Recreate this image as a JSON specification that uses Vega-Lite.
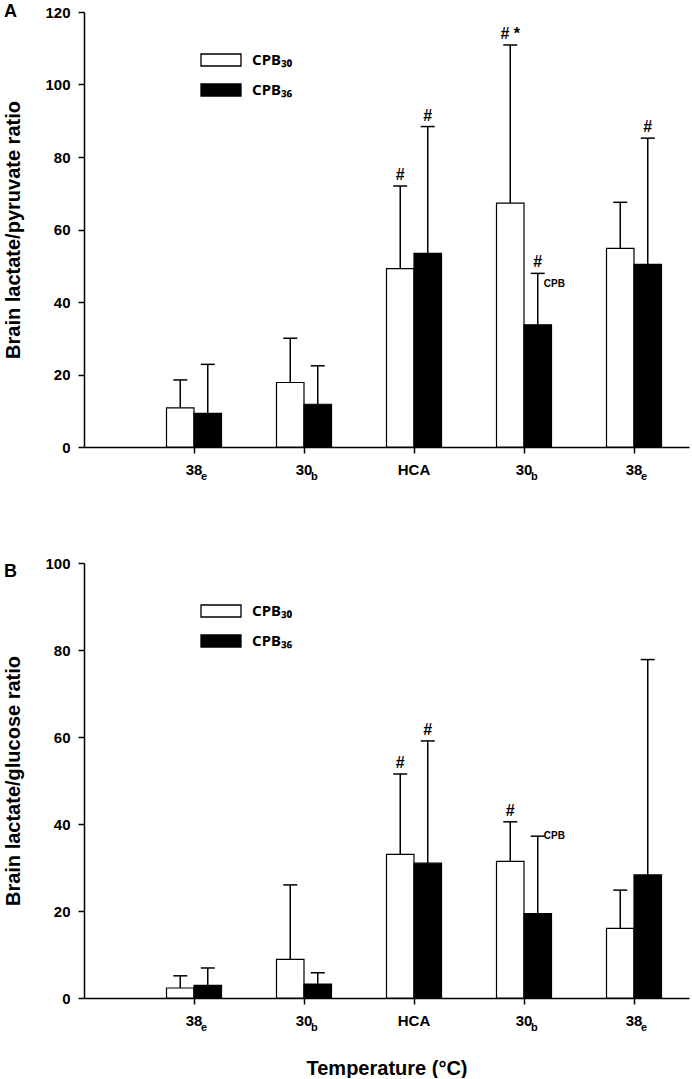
{
  "$schema": "https://vega.github.io/schema/vega-lite/v6.json",
  "autosize": {"type": "pad"},
  "padding": {"left": 3, "top": 3, "right": 4, "bottom": 0},
  "bounds": "flush",
  "spacing": 116,
  "background": "white",
  "config": {
    "view": {"stroke": null},
    "font": "Liberation Sans",
    "axis": {
      "grid": false,
      "domainColor": "black",
      "domainWidth": 1.5,
      "tickColor": "black",
      "tickWidth": 1.5,
      "tickSize": 6,
      "labelFont": "Liberation Sans",
      "labelFontSize": 15,
      "labelFontWeight": "bold",
      "labelColor": "black",
      "titleFont": "Liberation Sans",
      "titleFontSize": 20,
      "titleFontWeight": "bold",
      "titleColor": "black"
    },
    "legend": {
      "orient": "none",
      "legendX": 116,
      "legendY": 27,
      "rowPadding": -15,
      "symbolType": "M-1,-0.3H1V0.3H-1Z",
      "symbolSize": 1600,
      "symbolStrokeColor": "black",
      "symbolStrokeWidth": 1.3,
      "labelFont": "Noto Sans",
      "labelFontSize": 15,
      "labelFontWeight": "bold",
      "labelColor": "black",
      "labelOffset": 10,
      "title": null
    }
  },
  "datasets": {
    "bars": [
      {"panel": "A", "pos": 1, "cond": "38e", "group": "CPB30", "mean": 10.8, "upper": 18.5, "sig": "", "note": ""},
      {"panel": "A", "pos": 1, "cond": "38e", "group": "CPB36", "mean": 9.3, "upper": 22.8, "sig": "", "note": ""},
      {"panel": "A", "pos": 2, "cond": "30b", "group": "CPB30", "mean": 17.8, "upper": 30.0, "sig": "", "note": ""},
      {"panel": "A", "pos": 2, "cond": "30b", "group": "CPB36", "mean": 11.8, "upper": 22.4, "sig": "", "note": ""},
      {"panel": "A", "pos": 3, "cond": "HCA", "group": "CPB30", "mean": 49.2, "upper": 72.0, "sig": "#", "note": ""},
      {"panel": "A", "pos": 3, "cond": "HCA", "group": "CPB36", "mean": 53.4, "upper": 88.4, "sig": "#", "note": ""},
      {"panel": "A", "pos": 4, "cond": "30b", "group": "CPB30", "mean": 67.3, "upper": 110.9, "sig": "# *", "note": ""},
      {"panel": "A", "pos": 4, "cond": "30b", "group": "CPB36", "mean": 33.7, "upper": 47.9, "sig": "#", "note": "CPB"},
      {"panel": "A", "pos": 5, "cond": "38e", "group": "CPB30", "mean": 54.8, "upper": 67.5, "sig": "", "note": ""},
      {"panel": "A", "pos": 5, "cond": "38e", "group": "CPB36", "mean": 50.4, "upper": 85.2, "sig": "#", "note": ""},
      {"panel": "B", "pos": 1, "cond": "38e", "group": "CPB30", "mean": 2.3, "upper": 5.1, "sig": "", "note": ""},
      {"panel": "B", "pos": 1, "cond": "38e", "group": "CPB36", "mean": 2.9, "upper": 6.9, "sig": "", "note": ""},
      {"panel": "B", "pos": 2, "cond": "30b", "group": "CPB30", "mean": 8.9, "upper": 26.0, "sig": "", "note": ""},
      {"panel": "B", "pos": 2, "cond": "30b", "group": "CPB36", "mean": 3.2, "upper": 5.8, "sig": "", "note": ""},
      {"panel": "B", "pos": 3, "cond": "HCA", "group": "CPB30", "mean": 33.0, "upper": 51.5, "sig": "#", "note": ""},
      {"panel": "B", "pos": 3, "cond": "HCA", "group": "CPB36", "mean": 31.0, "upper": 59.1, "sig": "#", "note": ""},
      {"panel": "B", "pos": 4, "cond": "30b", "group": "CPB30", "mean": 31.4, "upper": 40.5, "sig": "#", "note": ""},
      {"panel": "B", "pos": 4, "cond": "30b", "group": "CPB36", "mean": 19.4, "upper": 37.2, "sig": "", "note": "CPB"},
      {"panel": "B", "pos": 5, "cond": "38e", "group": "CPB30", "mean": 16.0, "upper": 24.8, "sig": "", "note": ""},
      {"panel": "B", "pos": 5, "cond": "38e", "group": "CPB36", "mean": 28.3, "upper": 77.8, "sig": "", "note": ""}
    ],
    "labels": [
      {"pos": 1, "main": "38", "sub": "e"},
      {"pos": 2, "main": "30", "sub": "b"},
      {"pos": 3, "main": "HCA", "sub": ""},
      {"pos": 4, "main": "30", "sub": "b"},
      {"pos": 5, "main": "38", "sub": "e"}
    ]
  },
  "resolve": {"legend": {"fill": "independent"}, "scale": {"y": "independent"}},
  "vconcat": [
    {
      "width": 605,
      "height": 435,
      "title": {"text": "A", "anchor": "start", "frame": "group", "dx": -80, "offset": 0, "dy": 30, "baseline": "alphabetic", "fontSize": 18, "fontWeight": "bold", "font": "Liberation Sans", "color": "black"},
      "layer": [
        {
          "data": {"name": "bars"},
          "transform": [{"filter": "datum.panel == 'A'"}],
          "mark": {"type": "bar", "stroke": "black", "strokeWidth": 1.2},
          "encoding": {
            "x": {"field": "pos", "type": "ordinal", "scale": {"domain": [1, 2, 3, 4, 5], "paddingInner": 0, "paddingOuter": 0.25, "align": 1},
                  "axis": {"title": null, "labelAngle": 0, "labelPadding": 9, "labelDx": -2,
                           "labelExpr": "datum.value == 3 ? 'HCA' : (datum.value == 2 || datum.value == 4) ? '30' : '38'"}},
            "xOffset": {"field": "group", "scale": {"domain": ["CPB30", "CPB36"], "paddingInner": 0, "paddingOuter": 1.5}},
            "y": {"field": "mean", "type": "quantitative", "scale": {"domain": [0, 120], "nice": false},
                  "axis": {"title": "Brain lactate/pyruvate ratio", "values": [0, 20, 40, 60, 80, 100, 120], "labelPadding": 8, "titlePadding": 21}},
            "fill": {"field": "group", "type": "nominal", "scale": {"domain": ["CPB30", "CPB36"], "range": ["white", "black"]},
                     "legend": {"labelExpr": "datum.value == 'CPB30' ? 'CPB₃₀' : 'CPB₃₆'"}}
          }
        },
        {
          "data": {"name": "bars"},
          "transform": [{"filter": "datum.panel == 'A'"}],
          "mark": {"type": "rule", "color": "black", "strokeWidth": 1.5},
          "encoding": {
            "x": {"field": "pos", "type": "ordinal"},
            "xOffset": {"field": "group"},
            "y": {"field": "mean", "type": "quantitative"},
            "y2": {"field": "upper"}
          }
        },
        {
          "data": {"name": "bars"},
          "transform": [{"filter": "datum.panel == 'A'"}],
          "mark": {"type": "tick", "orient": "horizontal", "size": 14, "thickness": 1.5, "color": "black", "opacity": 1},
          "encoding": {
            "x": {"field": "pos", "type": "ordinal"},
            "xOffset": {"field": "group"},
            "y": {"field": "upper", "type": "quantitative"}
          }
        },
        {
          "data": {"name": "bars"},
          "transform": [{"filter": "datum.panel == 'A' && datum.sig != ''"}],
          "mark": {"type": "text", "baseline": "alphabetic", "dy": -6, "fontSize": 16, "fontWeight": "bold", "color": "black"},
          "encoding": {
            "x": {"field": "pos", "type": "ordinal"},
            "xOffset": {"field": "group"},
            "y": {"field": "upper", "type": "quantitative"},
            "text": {"field": "sig"}
          }
        },
        {
          "data": {"name": "bars"},
          "transform": [{"filter": "datum.panel == 'A' && datum.note != ''"}],
          "mark": {"type": "text", "align": "left", "baseline": "top", "dx": 6, "dy": 6, "fontSize": 10, "fontWeight": "bold", "color": "black"},
          "encoding": {
            "x": {"field": "pos", "type": "ordinal"},
            "xOffset": {"field": "group"},
            "y": {"field": "upper", "type": "quantitative"},
            "text": {"field": "note"}
          }
        },
        {
          "data": {"name": "labels"},
          "mark": {"type": "text", "align": "left", "baseline": "alphabetic", "dx": 7, "dy": 33, "fontSize": 11, "fontWeight": "bold", "color": "black"},
          "encoding": {
            "x": {"field": "pos", "type": "ordinal"},
            "y": {"datum": 0, "type": "quantitative"},
            "text": {"field": "sub"}
          }
        }
      ]
    },
    {
      "width": 605,
      "height": 435,
      "title": {"text": "B", "anchor": "start", "frame": "group", "dx": -80, "offset": 0, "dy": 39, "baseline": "alphabetic", "fontSize": 18, "fontWeight": "bold", "font": "Liberation Sans", "color": "black"},
      "layer": [
        {
          "data": {"name": "bars"},
          "transform": [{"filter": "datum.panel == 'B'"}],
          "mark": {"type": "bar", "stroke": "black", "strokeWidth": 1.2},
          "encoding": {
            "x": {"field": "pos", "type": "ordinal", "scale": {"domain": [1, 2, 3, 4, 5], "paddingInner": 0, "paddingOuter": 0.25, "align": 1},
                  "axis": {"title": "Temperature (°C)", "titlePadding": 30, "labelAngle": 0, "labelPadding": 9, "labelDx": -2,
                           "labelExpr": "datum.value == 3 ? 'HCA' : (datum.value == 2 || datum.value == 4) ? '30' : '38'"}},
            "xOffset": {"field": "group", "scale": {"domain": ["CPB30", "CPB36"], "paddingInner": 0, "paddingOuter": 1.5}},
            "y": {"field": "mean", "type": "quantitative", "scale": {"domain": [0, 100], "nice": false},
                  "axis": {"title": "Brain lactate/glucose ratio", "values": [0, 20, 40, 60, 80, 100], "labelPadding": 8, "titlePadding": 21}},
            "fill": {"field": "group", "type": "nominal", "scale": {"domain": ["CPB30", "CPB36"], "range": ["white", "black"]},
                     "legend": {"labelExpr": "datum.value == 'CPB30' ? 'CPB₃₀' : 'CPB₃₆'"}}
          }
        },
        {
          "data": {"name": "bars"},
          "transform": [{"filter": "datum.panel == 'B'"}],
          "mark": {"type": "rule", "color": "black", "strokeWidth": 1.5},
          "encoding": {
            "x": {"field": "pos", "type": "ordinal"},
            "xOffset": {"field": "group"},
            "y": {"field": "mean", "type": "quantitative"},
            "y2": {"field": "upper"}
          }
        },
        {
          "data": {"name": "bars"},
          "transform": [{"filter": "datum.panel == 'B'"}],
          "mark": {"type": "tick", "orient": "horizontal", "size": 14, "thickness": 1.5, "color": "black", "opacity": 1},
          "encoding": {
            "x": {"field": "pos", "type": "ordinal"},
            "xOffset": {"field": "group"},
            "y": {"field": "upper", "type": "quantitative"}
          }
        },
        {
          "data": {"name": "bars"},
          "transform": [{"filter": "datum.panel == 'B' && datum.sig != ''"}],
          "mark": {"type": "text", "baseline": "alphabetic", "dy": -6, "fontSize": 16, "fontWeight": "bold", "color": "black"},
          "encoding": {
            "x": {"field": "pos", "type": "ordinal"},
            "xOffset": {"field": "group"},
            "y": {"field": "upper", "type": "quantitative"},
            "text": {"field": "sig"}
          }
        },
        {
          "data": {"name": "bars"},
          "transform": [{"filter": "datum.panel == 'B' && datum.note != ''"}],
          "mark": {"type": "text", "align": "left", "baseline": "middle", "dx": 6, "dy": 0, "fontSize": 10, "fontWeight": "bold", "color": "black"},
          "encoding": {
            "x": {"field": "pos", "type": "ordinal"},
            "xOffset": {"field": "group"},
            "y": {"field": "upper", "type": "quantitative"},
            "text": {"field": "note"}
          }
        },
        {
          "data": {"name": "labels"},
          "mark": {"type": "text", "align": "left", "baseline": "alphabetic", "dx": 7, "dy": 33, "fontSize": 11, "fontWeight": "bold", "color": "black"},
          "encoding": {
            "x": {"field": "pos", "type": "ordinal"},
            "y": {"datum": 0, "type": "quantitative"},
            "text": {"field": "sub"}
          }
        }
      ]
    }
  ]
}
